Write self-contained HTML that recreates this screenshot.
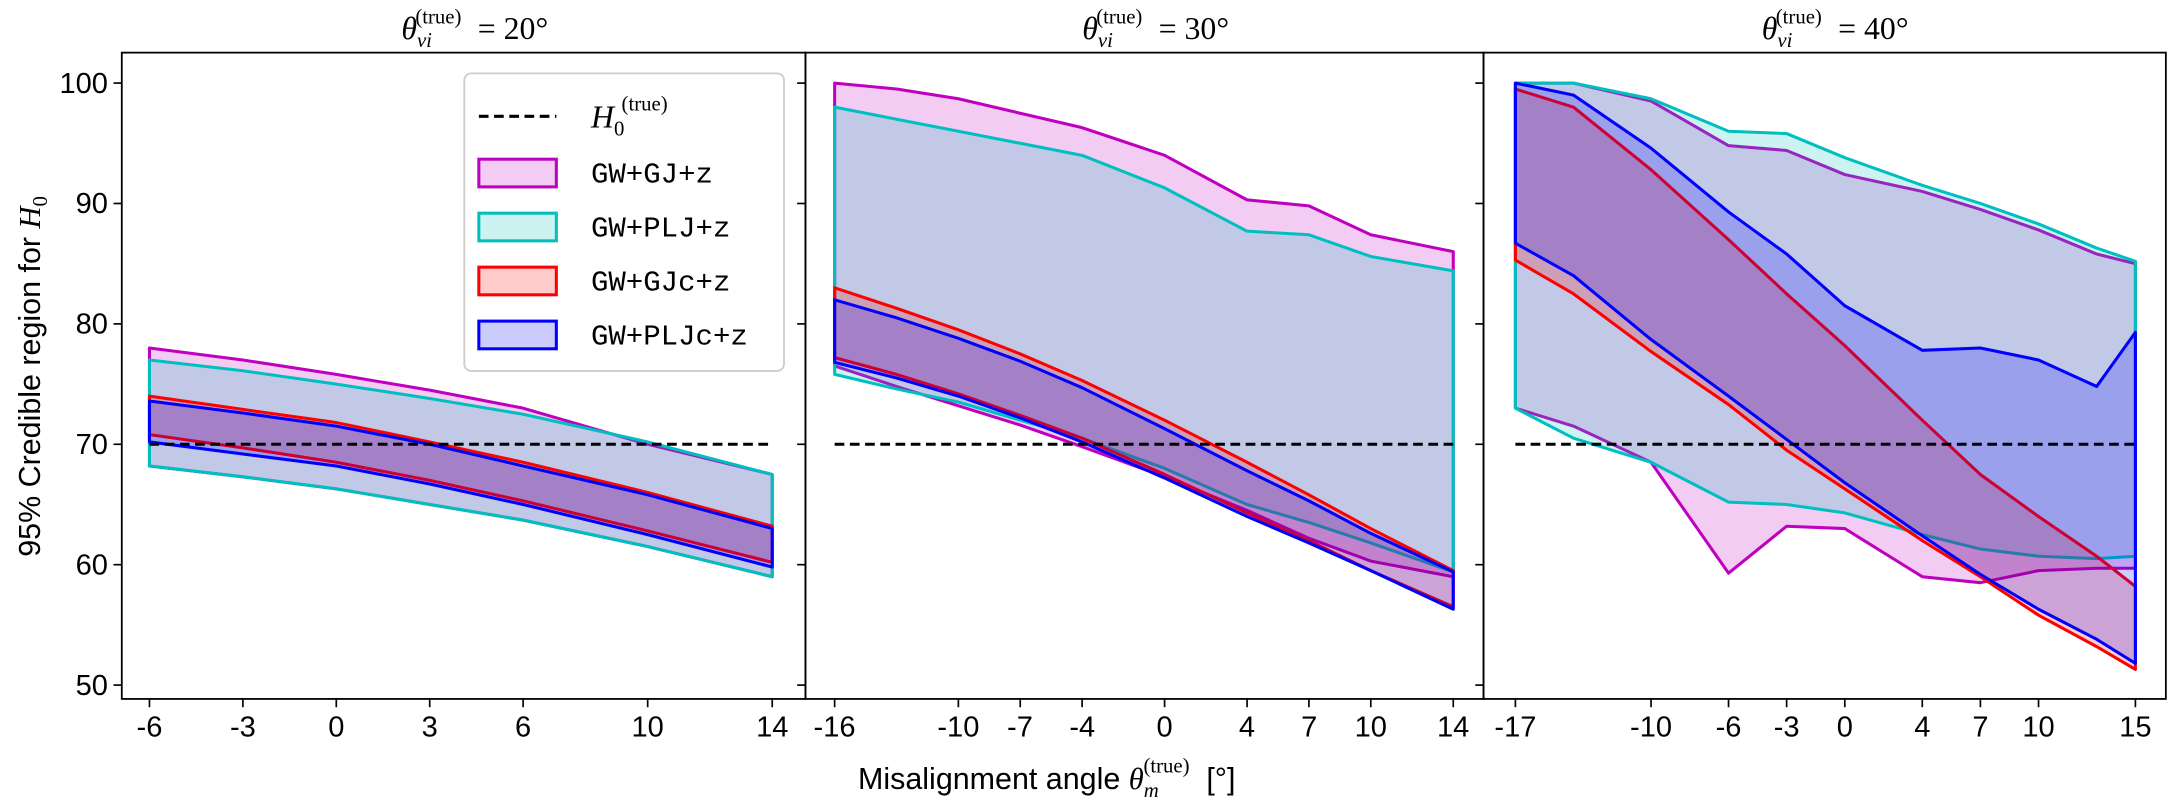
<!DOCTYPE html>
<html><head><meta charset="utf-8"><style>
html,body{margin:0;padding:0;background:#fff;}
svg{display:block;}
text{font-family:"Liberation Sans",sans-serif;fill:#000;}
.tk{font-size:21px;}
.mono{font-family:"Liberation Mono",monospace;font-size:21px;}
.it{font-family:"Liberation Serif",serif;font-style:italic;}
.rm{font-family:"Liberation Serif",serif;}
</style></head><body>
<svg id="s" width="2170" height="800" viewBox="0 0 1568 578" xmlns="http://www.w3.org/2000/svg">
<g id="data"></g>
<!-- spines -->
<g fill="none" stroke="#000" stroke-width="1.3">
<rect x="88" y="38" width="494" height="467"/>
<rect x="582" y="38" width="490" height="467"/>
<rect x="1072" y="38" width="493" height="467"/>
</g>
<g id="ticks" stroke="#000" stroke-width="1.2"></g>
<!-- y tick labels -->
<g class="tk" text-anchor="end">
<text x="78" y="67">100</text><text x="78" y="154">90</text><text x="78" y="241">80</text>
<text x="78" y="328">70</text><text x="78" y="415">60</text><text x="78" y="502">50</text>
</g>
<!-- x tick labels -->
<g class="tk" text-anchor="middle">
<text x="108" y="532">-6</text><text x="175.5" y="532">-3</text><text x="243" y="532">0</text>
<text x="310.5" y="532">3</text><text x="378" y="532">6</text><text x="468" y="532">10</text><text x="558" y="532">14</text>
<text x="603" y="532">-16</text><text x="692.5" y="532">-10</text><text x="737" y="532">-7</text><text x="782" y="532">-4</text>
<text x="841.5" y="532">0</text><text x="901" y="532">4</text><text x="946" y="532">7</text><text x="990.5" y="532">10</text><text x="1050" y="532">14</text>
<text x="1095" y="532">-17</text><text x="1193" y="532">-10</text><text x="1249" y="532">-6</text><text x="1291" y="532">-3</text>
<text x="1333" y="532">0</text><text x="1389" y="532">4</text><text x="1431" y="532">7</text><text x="1473" y="532">10</text><text x="1543" y="532">15</text>
</g>
<!-- titles -->
<g font-size="23">
<text x="290" y="28"><tspan class="it">θ</tspan><tspan class="it" font-size="15" dy="6">vi</tspan><tspan class="rm" font-size="15" dx="-12" dy="-17">(true)</tspan><tspan class="rm" dx="6" dy="11"> = 20°</tspan></text>
<text x="782" y="28"><tspan class="it">θ</tspan><tspan class="it" font-size="15" dy="6">vi</tspan><tspan class="rm" font-size="15" dx="-12" dy="-17">(true)</tspan><tspan class="rm" dx="6" dy="11"> = 30°</tspan></text>
<text x="1273" y="28"><tspan class="it">θ</tspan><tspan class="it" font-size="15" dy="6">vi</tspan><tspan class="rm" font-size="15" dx="-12" dy="-17">(true)</tspan><tspan class="rm" dx="6" dy="11"> = 40°</tspan></text>
</g>
<!-- axis labels -->
<text transform="translate(29,272) rotate(-90)" text-anchor="middle" font-size="22">95% Credible region for <tspan class="it">H</tspan><tspan class="rm" font-size="15" dy="5">0</tspan></text>
<text x="620" y="570" font-size="22">Misalignment angle <tspan class="it">θ</tspan><tspan class="it" font-size="15" dy="6">m</tspan><tspan class="rm" font-size="15" dx="-11" dy="-18">(true)</tspan><tspan dx="6" dy="12"> [°]</tspan></text>
<!-- legend -->
<rect x="335.5" y="53" width="231" height="215" rx="5" fill="#fff" fill-opacity="0.85" stroke="#ccc" stroke-width="1.3"/>
<line x1="346" y1="84" x2="402" y2="84" stroke="#000" stroke-width="2.2" stroke-dasharray="7,4"/>
<text x="427" y="92" font-size="23"><tspan class="it">H</tspan><tspan class="rm" font-size="15" dy="6">0</tspan><tspan class="rm" font-size="15" dx="-2" dy="-18">(true)</tspan></text>
<rect x="346" y="115" width="56" height="20" fill="#bf00bf" fill-opacity="0.2" stroke="#bf00bf" stroke-width="2.2"/>
<rect x="346" y="154" width="56" height="20" fill="#00bfbf" fill-opacity="0.2" stroke="#00bfbf" stroke-width="2.2"/>
<rect x="346" y="193" width="56" height="20" fill="#ff0000" fill-opacity="0.2" stroke="#ff0000" stroke-width="2.2"/>
<rect x="346" y="232" width="56" height="20" fill="#0000ff" fill-opacity="0.2" stroke="#0000ff" stroke-width="2.2"/>
<text class="mono" x="427" y="132">GW+GJ+z</text>
<text class="mono" x="427" y="171">GW+PLJ+z</text>
<text class="mono" x="427" y="210">GW+GJc+z</text>
<text class="mono" x="427" y="249">GW+PLJc+z</text>
</svg>
<script>
(function(){
var NS="http://www.w3.org/2000/svg";
function Y(v){return 60+(100-v)*8.7;}
var P=[
 {f:function(x){return 243+22.5*x;},xs:[-6,-3,0,3,6,10,14],
  d:{m:[[78,77,75.8,74.5,73,70,67.5],[68.2,67.3,66.3,65,63.7,61.5,59]],
     c:[[77,76.1,75,73.8,72.5,70.2,67.5],[68.2,67.3,66.3,65,63.7,61.5,59]],
     r:[[74,72.9,71.8,70.2,68.5,66,63.2],[70.8,69.7,68.5,67,65.3,62.8,60.2]],
     b:[[73.6,72.6,71.5,70,68.2,65.8,63],[70.2,69.2,68.2,66.7,65,62.5,59.8]]}},
 {f:function(x){return 841.5+14.9*x;},xs:[-16,-13,-10,-7,-4,0,4,7,10,14],
  d:{m:[[100,99.5,98.7,97.5,96.3,94,90.3,89.8,87.4,86],[76.5,74.8,73.2,71.6,69.8,67.3,64.5,62.2,60.3,59]],
     c:[[98,97,96,95,94,91.3,87.7,87.4,85.6,84.4],[75.8,74.6,73.5,72,70.5,68,65,63.5,61.8,59.4]],
     r:[[83,81.3,79.5,77.5,75.3,72,68.5,65.8,63,59.5],[77.2,75.8,74.2,72.4,70.5,67.5,64.3,62,59.5,56.5]],
     b:[[82,80.5,78.8,76.9,74.7,71.3,67.8,65.3,62.6,59.4],[76.8,75.5,74,72.2,70.2,67.2,64,61.8,59.5,56.3]]}},
 {f:function(x){return 1333+14*x;},xs:[-17,-14,-10,-6,-3,0,4,7,10,13,15],
  d:{m:[[100,100,98.5,94.8,94.4,92.4,91,89.5,87.8,85.8,85],[73,71.5,68.5,59.3,63.2,63,59,58.5,59.5,59.7,59.7]],
     c:[[100,100,98.7,96,95.8,93.8,91.5,90,88.3,86.3,85.2],[73,70.5,68.5,65.2,65,64.3,62.5,61.3,60.7,60.5,60.7]],
     r:[[99.5,98,92.8,87,82.5,78.2,72,67.5,64,60.7,58.2],[85.3,82.5,77.7,73.3,69.5,66.3,62,59,55.8,53.2,51.3]],
     b:[[100,99,94.6,89.3,85.8,81.5,77.8,78,77,74.8,79.3],[86.7,84,78.7,74,70.4,66.8,62.4,59.2,56.3,53.8,51.8]]}}
];
var col={m:"#bf00bf",c:"#00bfbf",r:"#ff0000",b:"#0000ff"};
var g=document.getElementById("data");
P.forEach(function(p){
 ["m","c","r","b"].forEach(function(k){
  var u=p.d[k][0],l=p.d[k][1],pts=[];
  for(var i=0;i<u.length;i++)pts.push(p.f(p.xs[i]).toFixed(1)+","+Y(u[i]).toFixed(1));
  for(var i=l.length-1;i>=0;i--)pts.push(p.f(p.xs[i]).toFixed(1)+","+Y(l[i]).toFixed(1));
  var e=document.createElementNS(NS,"polygon");
  e.setAttribute("points",pts.join(" "));
  e.setAttribute("fill",col[k]);e.setAttribute("fill-opacity","0.2");
  e.setAttribute("stroke",col[k]);e.setAttribute("stroke-width","2.2");e.setAttribute("stroke-linejoin","round");
  g.appendChild(e);
 });
 var x0=p.f(p.xs[0]),x1=p.f(p.xs[p.xs.length-1]);
 var ln=document.createElementNS(NS,"line");
 ln.setAttribute("x1",x0);ln.setAttribute("x2",x1);ln.setAttribute("y1",Y(70));ln.setAttribute("y2",Y(70));
 ln.setAttribute("stroke","#000");ln.setAttribute("stroke-width","2.2");ln.setAttribute("stroke-dasharray","7,4");
 g.appendChild(ln);
});
var t=document.getElementById("ticks");
function L(a,b,c,d){var e=document.createElementNS(NS,"line");e.setAttribute("x1",a);e.setAttribute("y1",b);e.setAttribute("x2",c);e.setAttribute("y2",d);t.appendChild(e);}
[88,582,1072].forEach(function(x){for(var v=50;v<=100;v+=10)L(x-6,Y(v),x,Y(v));});
[[-6,-3,0,3,6,10,14],[-16,-10,-7,-4,0,4,7,10,14],[-17,-10,-6,-3,0,4,7,10,15]].forEach(function(a,i){
 a.forEach(function(x){var px=P[i].f(x);L(px,505,px,511);});});
})();
</script>
</body></html>
